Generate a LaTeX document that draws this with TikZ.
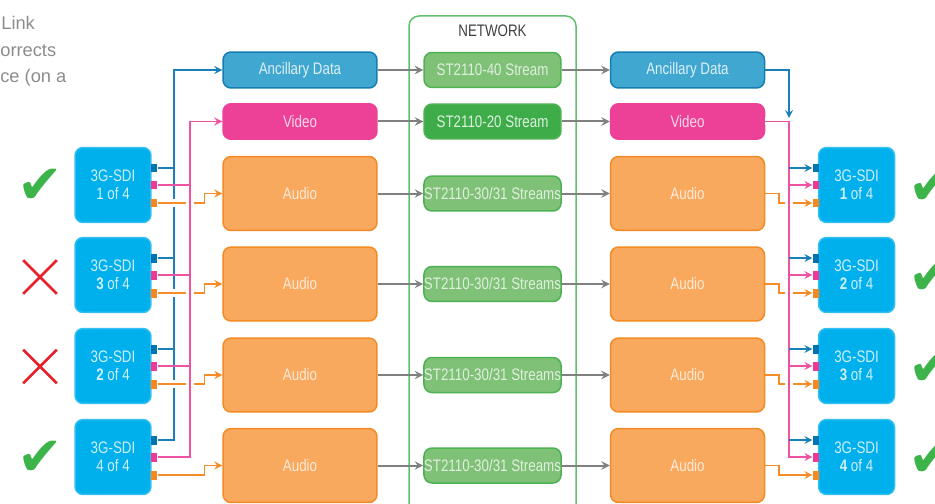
\documentclass[tikz,border=0pt]{standalone}
\usepackage{fontspec}
\setmainfont{Liberation Sans}[FakeStretch=0.8]
\newfontfamily\notefont{Liberation Sans}
\newfontfamily\markfont{DejaVu Sans}
\usetikzlibrary{positioning,shapes.misc}

\definecolor{sdiblue}{RGB}{0,176,236}
\definecolor{ancfill}{RGB}{64,168,208}
\definecolor{ancline}{RGB}{22,124,178}
\definecolor{ancwire}{RGB}{26,128,184}
\definecolor{ancport}{RGB}{0,116,176}
\definecolor{vidfill}{RGB}{237,64,151}
\definecolor{vidwire}{RGB}{238,82,162}
\definecolor{vidport}{RGB}{236,58,150}
\definecolor{audfill}{RGB}{249,169,94}
\definecolor{audline}{RGB}{244,138,36}
\definecolor{audwire}{RGB}{244,140,40}
\definecolor{audport}{RGB}{245,136,32}
\definecolor{stlight}{RGB}{128,193,120}
\definecolor{stdark}{RGB}{62,173,73}
\definecolor{stline}{RGB}{77,178,82}
\definecolor{netline}{RGB}{96,192,108}
\definecolor{flowgray}{RGB}{128,128,128}
\definecolor{notegray}{RGB}{140,140,140}
\definecolor{okgreen}{RGB}{60,180,74}
\definecolor{badred}{RGB}{232,32,42}

\tikzset{
  box/.style={rounded corners=0.16cm, line width=0.03cm, align=center,
    font=\fontsize{9.5}{10.2}\selectfont},
  sdi/.style={box, fill=sdiblue, draw=sdiblue!80!white, text=white!80!sdiblue,
    minimum width=1.52cm, minimum height=1.5cm},
  anc/.style={box, fill=ancfill, draw=ancline, text=white!82!ancfill,
    minimum width=3.08cm, minimum height=0.72cm},
  vid/.style={box, fill=vidfill, draw=vidfill, text=white!80!vidfill,
    minimum width=3.08cm, minimum height=0.71cm},
  aud/.style={box, fill=audfill, draw=audline, text=white!75!audfill,
    minimum width=3.08cm, minimum height=1.48cm},
  stream/.style={box, fill=stlight, draw=stline, text=white!75!stlight,
    minimum width=2.74cm, minimum height=0.7cm, inner sep=0pt},
  port/.style={inner sep=0pt, minimum width=0.13cm, minimum height=0.18cm},
  wire/.style={line width=0.035cm},
  halo/.style={preaction={draw=white, line width=0.16cm, -}},
  flow/.style={draw=flowgray, line width=0.04cm, -stealth},
  note/.style={font=\notefont\fontsize{10.4}{12}\selectfont, text=notegray,
    inner sep=0pt, anchor=base west},
  okmark/.style={font=\markfont\fontsize{31}{31}\selectfont, text=okgreen, inner sep=0pt},
  badmark/.style={cross out, draw=badred, line width=0.055cm, minimum size=0.62cm,
    inner sep=0pt}
}

\begin{document}
\begin{tikzpicture}[x=0.02cm, y=-0.02cm]
  \useasboundingbox (0,0) rectangle (935,503);

  % cut-off caption at top left
  \node [note] (note1) at (1,30) {Link};
  \node [note] (note2) at (0,57) {orrects};
  \node [note] (note3) at (0,83) {ce (on a};

  % network
  \draw [netline, line width=0.03cm, rounded corners=0.2cm] (409,16) rectangle (576,540);
  \node [font=\fontsize{9.5}{10.2}\selectfont, text=black!75] (netlabel) at (492.5,31) {NETWORK};

  % sending side
  \node [sdi] (sdiL1) at (113,185) {3G-SDI\\1 of 4};
  \node [sdi] (sdiL2) at (113,275) {3G-SDI\\\textbf{3} of 4};
  \node [sdi] (sdiL3) at (113,366) {3G-SDI\\\textbf{2} of 4};
  \node [sdi] (sdiL4) at (113,457) {3G-SDI\\4 of 4};

  \node [anc] (ancL) at (300,70) {Ancillary Data};
  \node [vid] (vidL) at (300,121.5) {Video};
  \node [aud] (audL1) at (300,193.5) {Audio};
  \node [aud] (audL2) at (300,284) {Audio};
  \node [aud] (audL3) at (300,375) {Audio};
  \node [aud] (audL4) at (300,465.5) {Audio};

  \node [stream] (st40) at (492.5,70) {ST2110-40 Stream};
  \node [stream, fill=stdark, text=white!82!stdark] (st20) at (492.5,121.5) {ST2110-20 Stream};
  \node [stream] (st1) at (492.5,193.5) {ST2110-30/31 Streams};
  \node [stream] (st2) at (492.5,284) {ST2110-30/31 Streams};
  \node [stream] (st3) at (492.5,375) {ST2110-30/31 Streams};
  \node [stream] (st4) at (492.5,465.5) {ST2110-30/31 Streams};

  % receiving side
  \node [anc] (ancR) at (687.5,70) {Ancillary Data};
  \node [vid] (vidR) at (687.5,121.5) {Video};
  \node [aud] (audR1) at (687.5,193.5) {Audio};
  \node [aud] (audR2) at (687.5,284) {Audio};
  \node [aud] (audR3) at (687.5,375) {Audio};
  \node [aud] (audR4) at (687.5,465.5) {Audio};

  \node [sdi] (sdiR1) at (856.5,185) {3G-SDI\\\textbf{1} of 4};
  \node [sdi] (sdiR2) at (856.5,275) {3G-SDI\\\textbf{2} of 4};
  \node [sdi] (sdiR3) at (856.5,366) {3G-SDI\\\textbf{3} of 4};
  \node [sdi] (sdiR4) at (856.5,457) {3G-SDI\\\textbf{4} of 4};

  % ports
  \node [port, fill=ancport] (portL1b) at (154,168) {};
  \node [port, fill=vidport] (portL1p) at (154,185) {};
  \node [port, fill=audport] (portL1o) at (154,203) {};
  \node [port, fill=ancport] (portL2b) at (154,258) {};
  \node [port, fill=vidport] (portL2p) at (154,275) {};
  \node [port, fill=audport] (portL2o) at (154,293) {};
  \node [port, fill=ancport] (portL3b) at (154,349) {};
  \node [port, fill=vidport] (portL3p) at (154,366) {};
  \node [port, fill=audport] (portL3o) at (154,384) {};
  \node [port, fill=ancport] (portL4b) at (154,440) {};
  \node [port, fill=vidport] (portL4p) at (154,457) {};
  \node [port, fill=audport] (portL4o) at (154,475) {};

  \node [port, fill=ancport] (portR1b) at (816,168) {};
  \node [port, fill=vidport] (portR1p) at (816,185) {};
  \node [port, fill=audport] (portR1o) at (816,203) {};
  \node [port, fill=ancport] (portR2b) at (816,258) {};
  \node [port, fill=vidport] (portR2p) at (816,275) {};
  \node [port, fill=audport] (portR2o) at (816,293) {};
  \node [port, fill=ancport] (portR3b) at (816,349) {};
  \node [port, fill=vidport] (portR3p) at (816,366) {};
  \node [port, fill=audport] (portR3o) at (816,384) {};
  \node [port, fill=ancport] (portR4b) at (816,440) {};
  \node [port, fill=vidport] (portR4p) at (816,457) {};
  \node [port, fill=audport] (portR4o) at (816,475) {};

  % left wiring: blue, then orange over it, then pink over orange
  \coordinate (busLb) at (174,70);
  \coordinate (busLp) at (190,121.5);
  \draw [wire, ancwire, -stealth] (portL4b.east) -| (busLb) -- (ancL.west);
  \draw [wire, ancwire] (portL1b.east) -- (portL1b.east -| busLb);
  \draw [wire, ancwire] (portL2b.east) -- (portL2b.east -| busLb);
  \draw [wire, ancwire] (portL3b.east) -- (portL3b.east -| busLb);

  \draw [wire, audwire, halo, -stealth] (portL1o.east) -- ++(47,0) |- (audL1.west);
  \draw [wire, audwire, halo, -stealth] (portL2o.east) -- ++(47,0) |- (audL2.west);
  \draw [wire, audwire, halo, -stealth] (portL3o.east) -- ++(47,0) |- (audL3.west);
  \draw [wire, audwire, halo, -stealth] (portL4o.east) -- ++(47,0) |- (audL4.west);

  \draw [wire, vidwire, halo, -stealth] (portL4p.east) -| (busLp) -- (vidL.west);
  \draw [wire, vidwire] (portL1p.east) -- (portL1p.east -| busLp);
  \draw [wire, vidwire] (portL2p.east) -- (portL2p.east -| busLp);
  \draw [wire, vidwire] (portL3p.east) -- (portL3p.east -| busLp);

  % into and out of the network
  \draw [flow] (ancL) -- (st40);
  \draw [flow] (vidL) -- (st20);
  \draw [flow] (audL1) -- (st1);
  \draw [flow] (audL2) -- (st2);
  \draw [flow] (audL3) -- (st3);
  \draw [flow] (audL4) -- (st4);
  \draw [flow] (st40) -- (ancR);
  \draw [flow] (st20) -- (vidR);
  \draw [flow] (st1) -- (audR1);
  \draw [flow] (st2) -- (audR2);
  \draw [flow] (st3) -- (audR3);
  \draw [flow] (st4) -- (audR4);

  % right wiring
  \coordinate (busRb) at (789,118);
  \coordinate (busRp) at (789,121.5);
  \draw [wire, audwire, -stealth] (audR1.east) -- ++(14,0) |- (portR1o.west);
  \draw [wire, audwire, -stealth] (audR2.east) -- ++(14,0) |- (portR2o.west);
  \draw [wire, audwire, -stealth] (audR3.east) -- ++(14,0) |- (portR3o.west);
  \draw [wire, audwire, -stealth] (audR4.east) -- ++(14,0) |- (portR4o.west);

  \draw [wire, vidwire, halo, -stealth] (vidR.east) -| (portR4p.west -| busRp) -- (portR4p.west);
  \draw [wire, vidwire, -stealth] (portR1p.west -| busRp) -- (portR1p.west);
  \draw [wire, vidwire, -stealth] (portR2p.west -| busRp) -- (portR2p.west);
  \draw [wire, vidwire, -stealth] (portR3p.west -| busRp) -- (portR3p.west);

  \draw [wire, ancwire, -stealth] (portR1b.west -| busRp) -- (portR1b.west);
  \draw [wire, ancwire, -stealth] (portR2b.west -| busRp) -- (portR2b.west);
  \draw [wire, ancwire, -stealth] (portR3b.west -| busRp) -- (portR3b.west);
  \draw [wire, ancwire, -stealth] (portR4b.west -| busRp) -- (portR4b.west);
  \draw [wire, ancwire, -stealth] (ancR.east) -| (busRb);

  % which streams came through
  \node [okmark] (okL1) at (40,186) {✔};
  \node [badmark] (badL2) at (40,277) {};
  \node [badmark] (badL3) at (40,366.5) {};
  \node [okmark] (okL4) at (40,458) {✔};

  \node [okmark] (okR1) at (931,187) {✔};
  \node [okmark] (okR2) at (931,277) {✔};
  \node [okmark] (okR3) at (931,368) {✔};
  \node [okmark] (okR4) at (931,459) {✔};
\end{tikzpicture}
\end{document}
